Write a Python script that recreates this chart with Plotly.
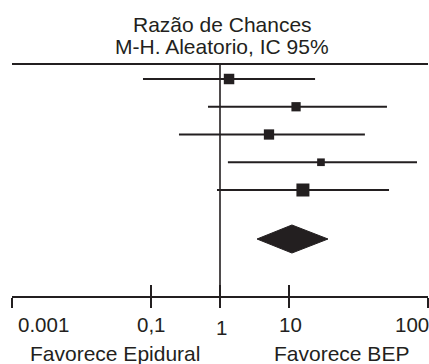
import math
import plotly.graph_objects as go

# ---- data ----
studies = [1, 2, 3, 4, 5]                      # row index, top to bottom
odds_ratio = [1.35, 12.5, 5.09, 28.6, 15.7]
ci_low = [0.0775, 0.671, 0.256, 1.30, 0.905]
ci_high = [23.5, 256, 123, 694, 274]
weights = [20.8, 16.2, 20.0, 11.1, 31.9]       # % weight -> square area
pooled = [3.42, 10.9, 36.1]                    # low, estimate, high
tick_values = [0.001, 0.1, 1, 10, 1000]
tick_labels = ["0.001", "0,1", "1", "10", "1000"]
title_lines = ["Razão de Chances", "M-H. Aleatorio, IC 95%"]
side_labels = ["Favorece Epidural", "Favorece BEP"]

INK = "#231f20"
FONT = "Arial, Liberation Sans, sans-serif"

# layout constants (pixel-derived)
Y_TOP_LINE = 0.459
Y_POOLED = 6.766
DIAMOND_HALF = 0.505
Y_RANGE = [8.82, -1.847]

fig = go.Figure()

# top horizontal rule
fig.add_trace(go.Scatter(x=[tick_values[0], tick_values[-1]], y=[Y_TOP_LINE, Y_TOP_LINE],
                         mode="lines", line=dict(color=INK, width=2),
                         hoverinfo="skip", showlegend=False))
# vertical line of no effect
fig.add_trace(go.Scatter(x=[1, 1], y=[Y_TOP_LINE, Y_RANGE[0]],
                         mode="lines", line=dict(color=INK, width=1.6),
                         hoverinfo="skip", showlegend=False))

# confidence intervals
ci_x, ci_y = [], []
for s, lo, hi in zip(studies, ci_low, ci_high):
    ci_x += [lo, hi, None]
    ci_y += [s, s, None]
fig.add_trace(go.Scatter(x=ci_x, y=ci_y, mode="lines",
                         line=dict(color=INK, width=1.8),
                         hoverinfo="skip", showlegend=False))

# study squares
fig.add_trace(go.Scatter(x=odds_ratio, y=studies, mode="markers",
                         marker=dict(symbol="square", color=INK, opacity=1,
                                     size=[2.3 * math.sqrt(w) for w in weights],
                                     line=dict(width=0)),
                         showlegend=False))

# pooled diamond
lo, est, hi = pooled
fig.add_trace(go.Scatter(x=[lo, est, hi, est, lo],
                         y=[Y_POOLED, Y_POOLED - DIAMOND_HALF, Y_POOLED,
                            Y_POOLED + DIAMOND_HALF, Y_POOLED],
                         mode="lines", fill="toself", fillcolor=INK,
                         line=dict(color=INK, width=1),
                         hoverinfo="skip", showlegend=False))

# invisible trace so the second (upward-tick) axis is drawn
fig.add_trace(go.Scatter(x=[1], y=[Y_RANGE[0] + 5], xaxis="x2", mode="markers",
                         marker=dict(opacity=0), hoverinfo="skip", showlegend=False))

log_range = [math.log10(tick_values[0]), math.log10(tick_values[-1])]

annotations = []
# title
for i, t in enumerate(title_lines):
    annotations.append(dict(text=t, x=0, xref="x", y=1, yref="paper",
                            xanchor="center", yanchor="middle", xshift=2,
                            yshift=-(24.5 + 21.5 * i), showarrow=False,
                            font=dict(family=FONT, size=21, color=INK)))
# tick labels
for v, t in zip(tick_values, tick_labels):
    lv = math.log10(v)
    if v == tick_values[0]:
        xa, xs = "left", 4
    elif v == tick_values[-1]:
        xa, xs = "left", -35
    else:
        xa, xs = "center", 1
    annotations.append(dict(text=t, x=lv, xref="x", y=0, yref="paper",
                            xanchor=xa, yanchor="middle", xshift=xs,
                            yshift=-(28.5 if t != "1" else 31.5), showarrow=False,
                            font=dict(family=FONT, size=20.5, color=INK)))
# side labels
for t, px in zip(side_labels, [0.2487, 0.7925]):
    annotations.append(dict(text=t, x=px, xref="paper", y=0, yref="paper",
                            xanchor="center", yanchor="middle", yshift=-57,
                            showarrow=False,
                            font=dict(family=FONT, size=21, color=INK)))

fig.update_layout(
    width=429, height=364,
    margin=dict(l=12, r=1, t=0, b=68),
    paper_bgcolor="white", plot_bgcolor="white",
    xaxis=dict(type="log", range=log_range, tickvals=tick_values,
               showticklabels=False, ticks="outside", ticklen=10,
               tickwidth=1.6, tickcolor=INK, showline=True, linecolor=INK,
               linewidth=2, showgrid=False, zeroline=False),
    xaxis2=dict(type="log", range=log_range, tickvals=tick_values,
                overlaying="x", anchor="y", side="bottom",
                showticklabels=False, ticks="inside", ticklen=11,
                tickwidth=1.6, tickcolor=INK, showline=False,
                showgrid=False, zeroline=False),
    yaxis=dict(range=Y_RANGE, visible=False, showgrid=False, zeroline=False),
    annotations=annotations,
    showlegend=False,
)

fig.write_html("out.html")
